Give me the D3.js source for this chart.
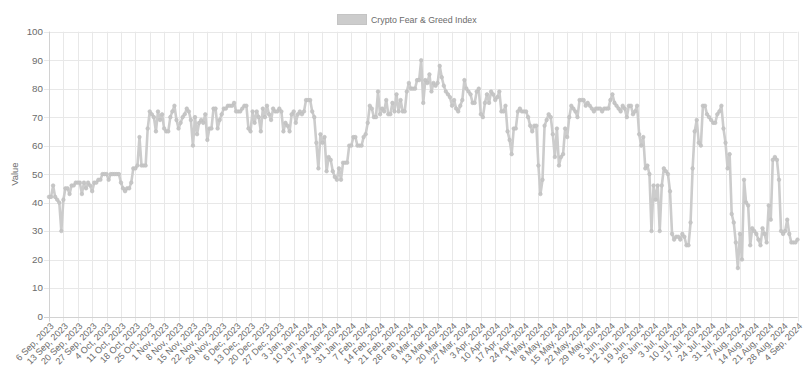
<!DOCTYPE html>
<html>
<head>
<meta charset="utf-8">
<script src="https://cdn.jsdelivr.net/npm/d3@7"></script>
<style>
  html, body { margin: 0; padding: 0; background: #fff; }
  svg { display: block; font-family: "Liberation Sans", Arial, Helvetica, sans-serif; }
</style>
</head>
<body>
<svg id="chart" width="811" height="378"></svg>
<script>
// ---- data ----
const seriesName = "Crypto Fear & Greed Index";
const startDate = "2023-09-06";
const values = [
  42, 42, 46, 42, 41, 40, 30, 41, 45, 45,
  43, 46, 46, 47, 47, 47, 43, 47, 45, 47,
  46, 44, 47, 47, 48, 48, 50, 50, 50, 48,
  50, 50, 50, 50, 50, 47, 45, 44, 45, 45,
  47, 52, 52, 53, 63, 53, 53, 53, 66, 72,
  71, 70, 65, 72, 69, 71, 66, 65, 65, 70,
  72, 74, 69, 66, 68, 70, 71, 73, 72, 69,
  60, 70, 64, 68, 69, 68, 71, 62, 66, 66,
  73, 73, 66, 69, 71, 73, 73, 74, 74, 74,
  75, 72, 72, 72, 73, 74, 74, 66, 65, 72,
  68, 72, 70, 65, 73, 70, 74, 71, 69, 73,
  72, 72, 73, 72, 65, 68, 67, 65, 71, 72,
  68, 71, 72, 71, 72, 76, 76, 76, 72, 70,
  61, 52, 64, 61, 63, 51, 56, 55, 51, 49,
  48, 52, 48, 54, 54, 54, 60, 60, 63, 63,
  60, 60, 60, 63, 64, 68, 74, 73, 70, 70,
  79, 71, 73, 72, 76, 71, 71, 75, 72, 78,
  72, 76, 72, 72, 79, 82, 80, 80, 80, 83,
  83, 90, 75, 83, 82, 85, 79, 82, 81, 82,
  88, 84, 81, 79, 78, 77, 74, 76, 73, 72,
  74, 76, 83, 80, 79, 78, 75, 75, 79, 80,
  71, 70, 75, 78, 75, 79, 78, 76, 77, 79,
  72, 72, 74, 65, 62, 57, 66, 66, 72, 73,
  72, 72, 72, 70, 67, 65, 67, 67, 53, 43,
  48, 67, 69, 71, 70, 64, 56, 66, 53, 56,
  57, 66, 63, 70, 74, 73, 72, 70, 76, 76,
  76, 74, 75, 74, 73, 72, 73, 73, 73, 72,
  73, 73, 73, 76, 78, 75, 74, 73, 72, 74,
  73, 70, 74, 74, 71, 72, 74, 64, 60, 63,
  52, 53, 50, 30, 46, 41, 46, 30, 46, 52,
  51, 50, 44, 29, 27, 28, 28, 27, 29, 28,
  25, 25, 33, 52, 65, 69, 61, 60, 74, 74,
  71, 70, 69, 68, 68, 71, 72, 74, 66, 61,
  52, 57, 36, 33, 26, 17, 29, 20, 48, 40,
  39, 25, 31, 30, 29, 27, 25, 31, 29, 26,
  39, 34, 55, 56, 55, 48, 30, 29, 30, 34,
  29, 26, 26, 26, 27
];
const xTickLabels = [
  "6 Sep, 2023", "13 Sep, 2023", "20 Sep, 2023", "27 Sep, 2023", "4 Oct, 2023",
  "11 Oct, 2023", "18 Oct, 2023", "25 Oct, 2023", "1 Nov, 2023", "8 Nov, 2023",
  "15 Nov, 2023", "22 Nov, 2023", "29 Nov, 2023", "6 Dec, 2023", "13 Dec, 2023",
  "20 Dec, 2023", "27 Dec, 2023", "3 Jan, 2024", "10 Jan, 2024", "17 Jan, 2024",
  "24 Jan, 2024", "31 Jan, 2024", "7 Feb, 2024", "14 Feb, 2024", "21 Feb, 2024",
  "28 Feb, 2024", "6 Mar, 2024", "13 Mar, 2024", "20 Mar, 2024", "27 Mar, 2024",
  "3 Apr, 2024", "10 Apr, 2024", "17 Apr, 2024", "24 Apr, 2024", "1 May, 2024",
  "8 May, 2024", "15 May, 2024", "22 May, 2024", "29 May, 2024", "5 Jun, 2024",
  "12 Jun, 2024", "19 Jun, 2024", "26 Jun, 2024", "3 Jul, 2024", "10 Jul, 2024",
  "17 Jul, 2024", "24 Jul, 2024", "31 Jul, 2024", "7 Aug, 2024", "14 Aug, 2024",
  "21 Aug, 2024", "28 Aug, 2024", "4 Sep, 2024"
];
const yTicks = [0, 10, 20, 30, 40, 50, 60, 70, 80, 90, 100];
const yTitle = "Value";

// ---- build ----
const parseISO = d3.timeParse("%Y-%m-%d");
const parseLabel = d3.timeParse("%-d %b, %Y");
const t0 = parseISO(startDate);
const data = values.map((v, i) => ({ date: d3.timeDay.offset(t0, i), value: v }));

const margin = { left: 49, right: 13.5, top: 31.7, bottom: 61.5 };
const W = 811, H = 378;
const svg = d3.select("#chart");

const x = d3.scaleTime()
  .domain(d3.extent(data, d => d.date))
  .range([margin.left, W - margin.right]);
const y = d3.scaleLinear()
  .domain([0, 100])
  .range([H - margin.bottom, margin.top]);

const gridColor = "#e8e8e8";
const textColor = "#6b6b6b";
const tickDates = xTickLabels.map(parseLabel);

// grid
const grid = svg.append("g");
grid.selectAll("line.v").data(tickDates).join("line")
  .attr("x1", d => Math.round(x(d)) + 0.5).attr("x2", d => Math.round(x(d)) + 0.5)
  .attr("y1", y(100)).attr("y2", y(0) + 5)
  .attr("stroke", gridColor).attr("stroke-width", 1);
grid.selectAll("line.h").data(yTicks).join("line")
  .attr("x1", margin.left - 5).attr("x2", W - margin.right)
  .attr("y1", d => Math.round(y(d)) + 0.5).attr("y2", d => Math.round(y(d)) + 0.5)
  .attr("stroke", gridColor).attr("stroke-width", 1);

// axis border lines
svg.append("line")
  .attr("x1", Math.round(x(tickDates[0])) + 0.5).attr("x2", Math.round(x(tickDates[0])) + 0.5)
  .attr("y1", y(100)).attr("y2", y(0) + 5)
  .attr("stroke", "#d2d2d2");
svg.append("line")
  .attr("x1", margin.left - 5).attr("x2", W - margin.right)
  .attr("y1", Math.round(y(0)) + 0.5).attr("y2", Math.round(y(0)) + 0.5)
  .attr("stroke", "#d2d2d2");

// y tick labels
svg.append("g").selectAll("text").data(yTicks).join("text")
  .attr("x", 43).attr("y", d => y(d))
  .attr("dy", "0.35em")
  .attr("text-anchor", "end")
  .attr("font-size", 9.8).attr("fill", textColor)
  .text(d => d);

// x tick labels
svg.append("g").selectAll("text").data(tickDates).join("text")
  .attr("transform", (d) => `translate(${x(d) + 3},${y(0) + 8}) rotate(-45)`)
  .attr("dy", "0.35em")
  .attr("text-anchor", "end")
  .attr("font-size", 9.1).attr("fill", textColor)
  .text((d, i) => xTickLabels[i]);

// y title
svg.append("text")
  .attr("transform", `translate(15,${(y(0) + y(100)) / 2}) rotate(-90)`)
  .attr("text-anchor", "middle")
  .attr("dy", "0.35em")
  .attr("font-size", 9.4).attr("fill", textColor)
  .text(yTitle);

// line
const lineColor = "#cccccc";
svg.append("path")
  .datum(data)
  .attr("fill", "none")
  .attr("stroke", lineColor)
  .attr("stroke-width", 2.6)
  .attr("stroke-linejoin", "round")
  .attr("d", d3.line().x(d => x(d.date)).y(d => y(d.value)));

svg.append("g").selectAll("circle").data(data).join("circle")
  .attr("cx", d => x(d.date)).attr("cy", d => y(d.value))
  .attr("r", 1.8)
  .attr("fill", "#c6c6c6")
  .attr("stroke", "#c0c0c0")
  .attr("stroke-width", 0.6);

// legend
const lg = svg.append("g");
lg.append("rect")
  .attr("x", 337.5).attr("y", 14.5).attr("width", 29).attr("height", 10)
  .attr("fill", "#cccccc").attr("stroke", "#c4c4c4");
lg.append("text")
  .attr("x", 371).attr("y", 19.8).attr("dy", "0.35em")
  .attr("font-size", 8.8).attr("fill", textColor)
  .text(seriesName);
</script>
</body>
</html>
